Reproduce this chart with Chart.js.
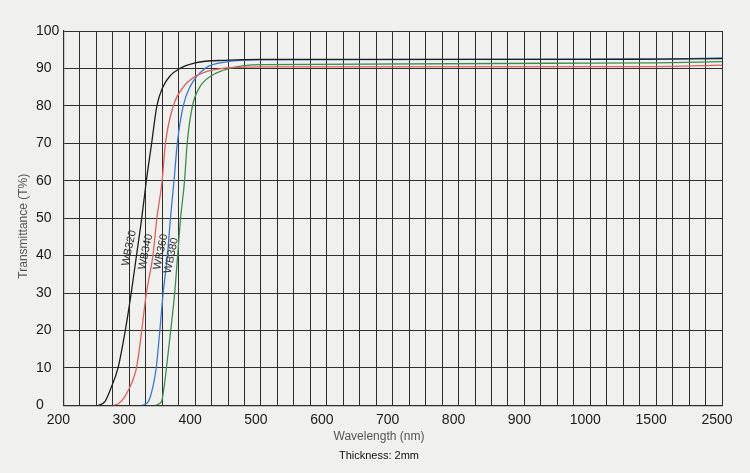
<!DOCTYPE html>
<html>
<head>
<meta charset="utf-8">
<script src="https://cdn.jsdelivr.net/npm/chart.js@4.4.1/dist/chart.umd.min.js"></script>
<style>
  html, body { margin: 0; padding: 0; background: #f0f0ee; }
  #wrap { width: 750px; height: 473px; }
</style>
</head>
<body>
<div id="wrap"><canvas id="chart"></canvas></div>
<script>
// wavelength (nm) / transmittance (%)
var wlWB320 = [253, 263, 272, 283, 294, 303, 311, 319, 326, 334, 342, 351, 362, 377, 400, 450, 500, 700, 1000, 1500, 2500];
var tWB320  = [0, 1, 4.5, 10, 20, 30, 40, 50, 60, 70, 80, 85, 88, 90, 91.5, 92.2, 92.4, 92.4, 92.4, 92.5, 92.6];

var wlWB340 = [276, 284, 292, 300, 306, 311, 315, 319, 326, 336, 342, 350, 355, 367, 382, 402, 442, 500, 1000, 1500, 2500];
var tWB340  = [0, 0.5, 2, 4.5, 7, 10, 14.5, 20, 30, 40, 50, 60, 70, 80, 85, 88, 90, 90.4, 90.5, 90.5, 90.9];

var wlWB360 = [319, 329, 336, 341, 346.5, 351.5, 358, 362.6, 368, 373, 382, 392, 415, 450, 500, 1000, 1500, 2500];
var tWB360  = [0, 1, 5, 10, 20, 30, 40, 50, 60, 70, 80, 85, 90, 91.8, 92.3, 92.5, 92.5, 92.8];

var wlWB380 = [339, 349, 353, 356.5, 363, 369, 373.5, 378, 384, 388, 396, 407, 424, 452, 500, 1000, 1500, 2500];
var tWB380  = [0, 1, 5, 10, 20, 30, 40, 50, 60, 70, 80, 85, 88, 90, 91, 91.4, 91.5, 91.8];

var xTickLabels = ['200', '300', '400', '500', '600', '700', '800', '900', '1000', '1500', '2500'];
var seriesNames = ['WB320', 'WB340', 'WB360', 'WB380'];
// where each curve name is printed: [wavelength, transmittance]
var nameAnchors = [[300, 42], [325, 41], [348, 41], [364, 40]];

// the printed axis is stretched: 25 nm per grid cell up to 1000, then 125 nm, then 250 nm
function pos(w) {
    if (w <= 1000) return (w - 200) / 25;
    if (w <= 1500) return 32 + (w - 1000) / 125;
    return 36 + (w - 1500) / 250;
}
function toPoints(wl, t) {
    return wl.map((w, i) => ({x: pos(w), y: t[i]}));
}

var extraText = {
    id: 'extraText',
    afterDatasetsDraw(chart) {
        var ctx = chart.ctx;
        var xs = chart.scales.x, ys = chart.scales.y, ca = chart.chartArea;
        ctx.save();
        ctx.font = '11px "Liberation Sans", Arial, sans-serif';
        ctx.fillStyle = '#333';
        ctx.textAlign = 'center';
        ctx.textBaseline = 'middle';
        nameAnchors.forEach((a, i) => {
            ctx.save();
            ctx.translate(xs.getPixelForValue(pos(a[0])), ys.getPixelForValue(a[1]));
            ctx.rotate(-78 * Math.PI / 180);
            ctx.fillText(seriesNames[i], 0, 0);
            ctx.restore();
        });
        // y axis title (drawn here so the tick labels can stay left aligned)
        ctx.font = '12px "Liberation Sans", Arial, sans-serif';
        ctx.fillStyle = '#555';
        ctx.translate(ca.left - 40, (ca.top + ca.bottom) / 2 + 8);
        ctx.rotate(-Math.PI / 2);
        ctx.fillText('Transmittance (T%)', 0, 0);
        ctx.restore();
    }
};

Chart.defaults.font.family = '"Liberation Sans", Arial, sans-serif';
Chart.defaults.font.size = 14;
Chart.defaults.color = '#1a1a1a';

var colors = ['#1e1e1e', '#e0615e', '#3a78d8', '#3c8c4c'];
var lists = [[wlWB320, tWB320], [wlWB340, tWB340], [wlWB360, tWB360], [wlWB380, tWB380]];

var chart = new Chart(document.getElementById('chart'), {
    type: 'scatter',
    data: {
        datasets: lists.map((l, i) => ({
            label: seriesNames[i],
            data: toPoints(l[0], l[1]),
            showLine: true,
            cubicInterpolationMode: 'monotone',
            borderColor: colors[i],
            borderWidth: 1.3,
            pointRadius: 0
        }))
    },
    options: {
        responsive: true,
        maintainAspectRatio: false,
        animation: false,
        layout: {padding: {left: 36, right: 28, top: 31, bottom: 10}},
        scales: {
            x: {
                type: 'linear', min: 0, max: 40,
                grid: {color: '#2e2e2e', lineWidth: 1, drawTicks: false},
                border: {color: '#2e2e2e', width: 1.2},
                ticks: {
                    stepSize: 1, autoSkip: false, maxRotation: 0, padding: 8, labelOffset: -5,
                    font: {lineHeight: 1},
                    callback: (v) => {
                        if (v % 4 === 0 && v <= 32) return xTickLabels[v / 4];
                        if (v === 36) return xTickLabels[9];
                        if (v === 40) return xTickLabels[10];
                        return '';
                    }
                }
            },
            y: {
                min: 0, max: 100,
                grid: {color: '#2e2e2e', lineWidth: 1, drawTicks: false},
                border: {color: '#2e2e2e', width: 1.2},
                ticks: {stepSize: 10, crossAlign: 'far', padding: 2}
            }
        },
        plugins: {
            legend: {display: false},
            tooltip: {enabled: false},
            subtitle: {display: true, position: 'bottom', text: 'Wavelength (nm)', color: '#555', font: {size: 12}, padding: {top: -6, bottom: 6}},
            title: {display: true, position: 'bottom', text: 'Thickness: 2mm', color: '#111', font: {size: 11, weight: 'normal'}, padding: {top: 0, bottom: 0}}
        }
    },
    plugins: [extraText]
});
</script>
</body>
</html>
